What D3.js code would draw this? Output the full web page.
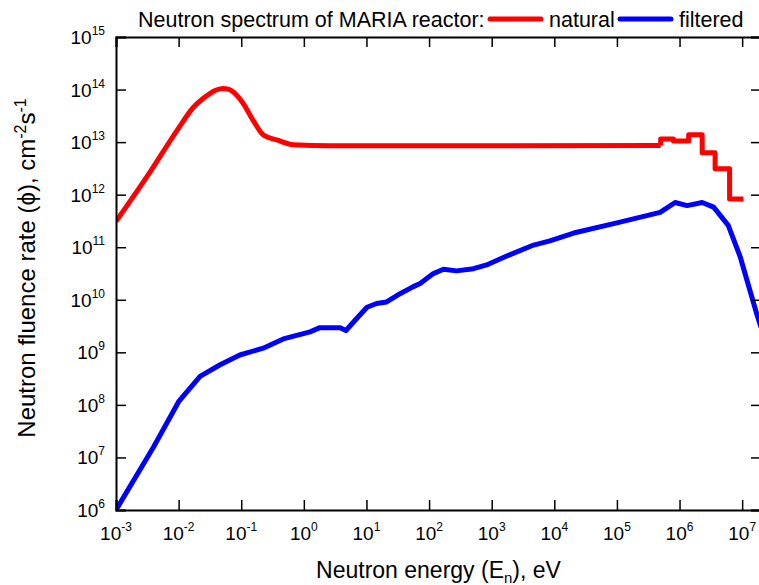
<!DOCTYPE html>
<html>
<head>
<meta charset="utf-8">
<script src="https://cdn.jsdelivr.net/npm/d3@7"></script>
<style>
  body { margin: 0; background: #fff; }
  svg text { font-family: "Liberation Sans", Arial, sans-serif; fill: #000; }
</style>
</head>
<body>
<div id="chart"></div>
<script>
// energy (eV) and fluence rate
const naturalE   = [1e-3, 3.2e-3, 1e-2, 1.7e-2, 2.4e-2, 3.2e-2, 4.0e-2, 5.1e-2, 6.2e-2, 7.4e-2, 0.107, 0.155, 0.224, 0.37, 0.68, 2.6, 5.0e5];
const naturalPhi = [3.1e11, 2.3e12, 1.85e13, 4.5e13, 6.6e13, 8.5e13, 9.8e13, 1.05e14, 1.02e14, 9.1e13, 5.5e13, 2.6e13, 1.38e13, 1.1e13, 8.9e12, 8.5e12, 8.6e12];

// high energy part of natural spectrum is given as groups
const groupEdges = [5.0e5, 8.0e5, 1.4e6, 2.3e6, 3.7e6, 6.3e6, 1.05e7];
const groupPhi   = [1.15e13, 1.05e13, 1.38e13, 6.3e12, 3.1e12, 8.3e11];

const filteredE   = [1e-3, 4.0e-3, 1e-2, 2.2e-2, 4.6e-2, 9.5e-2, 0.224, 0.47, 1.26, 1.8, 3.8, 4.7, 7.1, 10.2, 14.5, 21, 35, 56, 72, 117, 170, 275, 513, 830, 1740, 4680, 8500, 2.04e4, 1e5, 4.9e5, 8.5e5, 1.32e6, 2.3e6, 3.5e6, 6.0e6, 9.3e6, 1.7e7, 2e7];
const filteredPhi = [1e6, 1.6e7, 1.15e8, 3.5e8, 5.8e8, 8.9e8, 1.2e9, 1.8e9, 2.45e9, 2.95e9, 2.95e9, 2.6e9, 4.5e9, 7.2e9, 8.5e9, 9.1e9, 1.32e10, 1.78e10, 2.05e10, 3.15e10, 3.8e10, 3.55e10, 3.9e10, 4.6e10, 6.8e10, 1.1e11, 1.32e11, 1.86e11, 2.9e11, 4.6e11, 7.1e11, 6.2e11, 7.1e11, 5.8e11, 2.6e11, 6.6e10, 5.5e9, 3.0e9];

const xTicks = [-3, -2, -1, 0, 1, 2, 3, 4, 5, 6, 7];
const yTicks = [6, 7, 8, 9, 10, 11, 12, 13, 14, 15];

const width = 759, height = 585;
const margin = {top: 37, right: -2, bottom: 75, left: 116};
const w = width - margin.left - margin.right;
const h = height - margin.top - margin.bottom;

let svg = d3.select("#chart").append("svg")
    .attr("width", width)
    .attr("height", height);

let g = svg.append("g")
    .attr("transform", "translate(" + margin.left + "," + margin.top + ")");

let x = d3.scaleLog().domain([1e-3, 2e7]).range([0, w]);
let y = d3.scaleLog().domain([1e6, 1e15]).range([h, 0]);

// build natural series: smooth part + step groups
let natural = naturalE.map((e, i) => ({e: e, phi: naturalPhi[i]}));
groupPhi.forEach(function (v, i) {
    natural.push({e: groupEdges[i], phi: v});
    natural.push({e: groupEdges[i + 1], phi: v});
});
let filtered = filteredE.map((e, i) => ({e: e, phi: filteredPhi[i]}));

g.append("clipPath").attr("id", "clip")
    .append("rect").attr("width", w).attr("height", h);

let line = d3.line()
    .x(d => x(d.e))
    .y(d => y(d.phi));

let smooth = d3.line()
    .x(d => x(d.e))
    .y(d => y(d.phi))
    .curve(d3.curveMonotoneX);

g.append("path")
    .datum(filtered)
    .attr("clip-path", "url(#clip)")
    .attr("fill", "none")
    .attr("stroke", "#0000ff")
    .attr("stroke-width", 5)
    .attr("stroke-linejoin", "round")
    .attr("d", line);

// smooth portion with monotone curve, steps as straight segments
let nSmooth = naturalE.length;
g.append("path")
    .datum(natural.slice(0, nSmooth))
    .attr("clip-path", "url(#clip)")
    .attr("fill", "none")
    .attr("stroke", "#ff0000")
    .attr("stroke-width", 5)
    .attr("stroke-linejoin", "round")
    .attr("d", smooth);
g.append("path")
    .datum(natural.slice(nSmooth - 1))
    .attr("fill", "none")
    .attr("stroke", "#ff0000")
    .attr("stroke-width", 5)
    .attr("stroke-linejoin", "round")
    .attr("d", line);

// axes, ticks pointing inwards
let tx = xTicks.map(d => Math.pow(10, d));
let ty = yTicks.map(d => Math.pow(10, d));

let xAxis = g.append("g")
    .attr("transform", "translate(0," + h + ")")
    .call(d3.axisBottom(x).tickValues(tx).tickSize(-10).tickFormat(""));
let xTop = g.append("g")
    .call(d3.axisTop(x).tickValues(tx).tickSize(-10).tickFormat(""));
let yAxis = g.append("g")
    .call(d3.axisLeft(y).tickValues(ty).tickSize(-10).tickFormat(""));
let yRight = g.append("g")
    .attr("transform", "translate(" + w + ",0)")
    .call(d3.axisRight(y).tickValues(ty).tickSize(-10).tickFormat(""));

[xAxis, xTop, yAxis, yRight].forEach(function (a) {
    a.select(".domain").attr("stroke", "#000").attr("stroke-width", 2);
    a.selectAll(".tick line").attr("stroke", "#000").attr("stroke-width", 1.5);
});

// power-of-ten labels
xTicks.forEach(function (p) {
    let t = g.append("text")
        .attr("x", x(Math.pow(10, p)))
        .attr("y", h + 30)
        .attr("text-anchor", "middle")
        .style("font-size", "19px");
    t.append("tspan").text("10");
    t.append("tspan").attr("dy", -9).style("font-size", "12px").text(p);
});
yTicks.forEach(function (p) {
    let t = g.append("text")
        .attr("x", -11)
        .attr("y", y(Math.pow(10, p)) + 7)
        .attr("text-anchor", "end")
        .style("font-size", "19px");
    t.append("tspan").text("10");
    t.append("tspan").attr("dy", -9).style("font-size", "12px").text(p);
});

// axis titles
let xl = svg.append("text")
    .attr("x", margin.left + w / 2)
    .attr("y", 578)
    .attr("text-anchor", "middle")
    .style("font-size", "23px");
xl.append("tspan").text("Neutron energy (E");
xl.append("tspan").attr("dy", 5).style("font-size", "15px").text("n");
xl.append("tspan").attr("dy", -5).text("), eV");

let yl = svg.append("text")
    .attr("transform", "translate(35,268) rotate(-90)")
    .attr("text-anchor", "middle")
    .style("font-size", "24px");
yl.append("tspan").text("Neutron fluence rate (\u03d5), cm");
yl.append("tspan").attr("dy", -9).style("font-size", "16px").text("-2");
yl.append("tspan").attr("dy", 9).text("s");
yl.append("tspan").attr("dy", -9).style("font-size", "16px").text("-1");

// title with inline legend
svg.append("text")
    .attr("x", 138).attr("y", 27)
    .style("font-size", "21.5px")
    .text("Neutron spectrum of MARIA reactor:");

let legend = [
    {name: "natural", color: "#ff0000", x0: 488},
    {name: "filtered", color: "#0000ff", x0: 618}
];
legend.forEach(function (l) {
    svg.append("line")
        .attr("x1", l.x0 + 2).attr("x2", l.x0 + 53)
        .attr("y1", 19).attr("y2", 19)
        .attr("stroke", l.color)
        .attr("stroke-width", 5)
        .attr("stroke-linecap", "round");
    svg.append("text")
        .attr("x", l.x0 + 61).attr("y", 27)
        .style("font-size", "21.5px")
        .text(l.name);
});
</script>
</body>
</html>
